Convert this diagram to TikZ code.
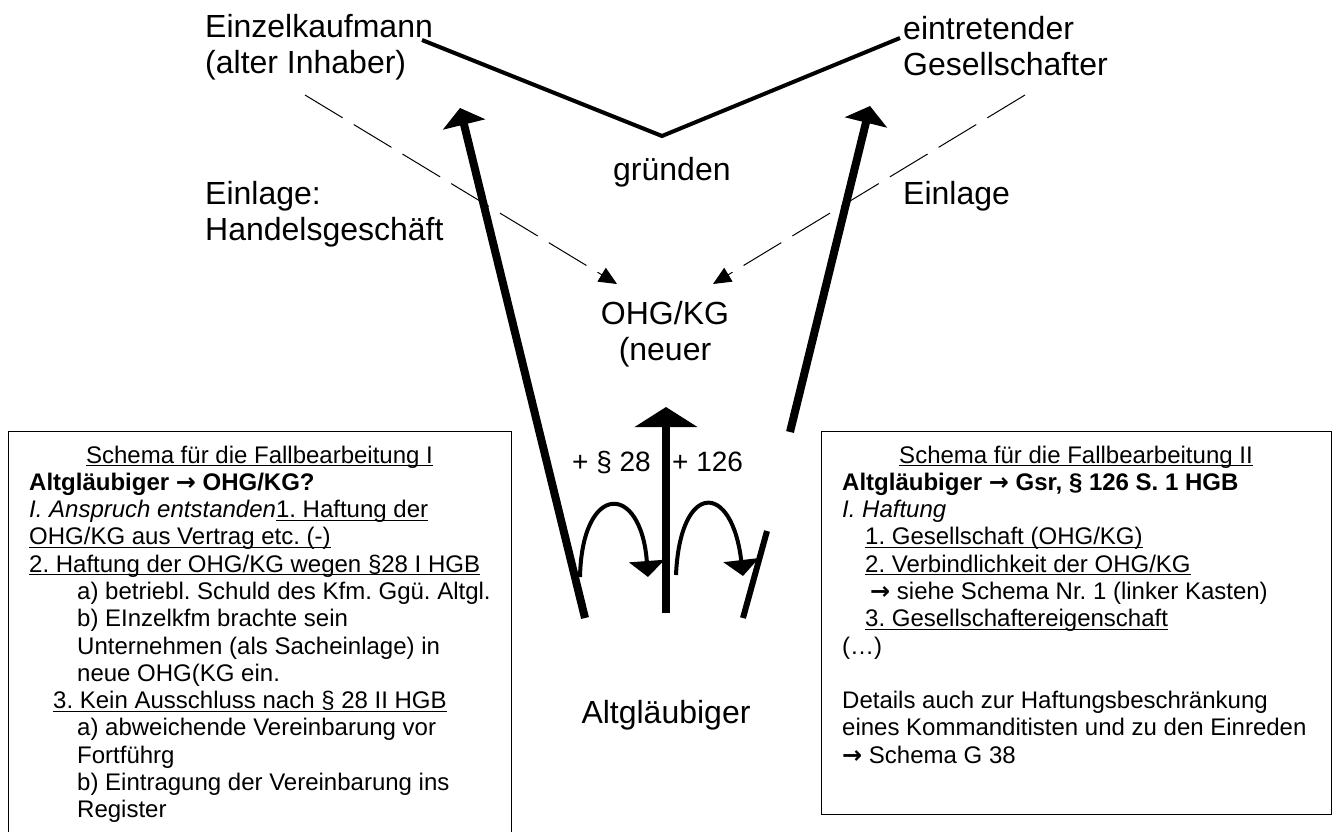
\documentclass[tikz,border=0pt]{standalone}
\usepackage{fontspec}
\setmainfont{Liberation Sans}
\newfontfamily\arrowfont{DejaVu Sans}
\usetikzlibrary{arrows.meta}
\frenchspacing
\newsavebox{\ulbox}
\newcommand{\ulin}[1]{\sbox{\ulbox}{#1}\rlap{\rule[-3.2pt]{\wd\ulbox}{1.2pt}}\usebox{\ulbox}}
\newcommand{\toarr}{{\arrowfont\bfseries →}}

\begin{document}
\begin{tikzpicture}[
    x=1pt, y=-1pt,
    lbl/.style={inner sep=0pt, align=left, font=\fontsize{32}{36}\selectfont},
    lawlbl/.style={inner sep=0pt, font=\fontsize{28}{32}\selectfont},
    txt/.style={inner sep=0pt, align=left, font=\fontsize{24}{27.3}\selectfont},
    box/.style={draw, line width=1pt, anchor=north west, inner sep=0pt},
    contrib/.style={-{Triangle[width=16pt, length=18pt]}, line width=1pt,
        dash pattern=on 44pt off 13pt},
    claim/.style={-{Triangle[width=43pt, length=17pt]}, line width=8pt},
    hop/.style={-{Triangle[width=35pt, length=16pt]}, line width=4pt},
]
\useasboundingbox (0,0) rectangle (1336,831);
\fill[white] (0,0) rectangle (1336,831);

% Top: founders and the new company
\node[lbl, anchor=north west] (kfm) at (205,11.8) {\strut Einzelkaufmann\\(alter Inhaber)};
\node[lbl, anchor=north west] (eintr) at (903,13.8) {\strut eintretender\\Gesellschafter};
\node[lbl, anchor=base west] (gruenden) at (613,180) {gründen};
\node[lbl, anchor=north west] (einlhg) at (205,178.8) {\strut Einlage:\\Handelsgeschäft};
\node[lbl, anchor=base west] (einl) at (903,204) {Einlage};
\node[lbl, anchor=north, align=center] (ohg) at (665,298.8) {\strut OHG/KG\\(neuer};
\node[lbl, anchor=base] (altgl) at (666,723) {Altgläubiger};

% Paragraph labels
\node[lawlbl, anchor=base west] (p28) at (572,471) {+ § 28};
\node[lawlbl, anchor=base west] (p126) at (672,471) {+ 126};

% Connector end points
\coordinate (vl) at (422,40);
\coordinate (vm) at (662,136);
\coordinate (vr) at (900,38);
\coordinate (kfmout) at (305,95);
\coordinate (ohgleft) at (617,284);
\coordinate (eintrout) at (1025,95);
\coordinate (ohgright) at (713,284);
\coordinate (leftfoot) at (585,618);
\coordinate (lefttip) at (460,108);
\coordinate (rightfoot) at (790,432);
\coordinate (righttip) at (870,106);
\coordinate (midfoot) at (666,613);
\coordinate (midtip) at (666,407);

% gründen
\draw[line width=4pt, line join=miter] (vl) -- (vm) -- (vr);

% Einlagen into the company
\draw[contrib] (kfmout) -- (ohgleft);
\draw[contrib] (eintrout) -- (ohgright);

% Claims of the Altgläubiger
\draw[claim] (leftfoot) -- (lefttip);
\draw[claim] (rightfoot) -- (righttip);
\draw[-{Triangle[width=62pt, length=20pt]}, line width=8pt] (midfoot) -- (midtip);
\draw[hop] (580,577) .. controls (582,482) and (641,482) .. (648,577);
\draw[hop] (676,575) .. controls (680,481) and (732,481) .. (743,576);
\draw[line width=6pt] (767,531) -- (743,618);

% Left box
\node[box, minimum width=503pt, minimum height=430pt] (leftbox) at (8,431) {};
\node[txt, anchor=base] (lhead) at (259.5,463) {\ulin{Schema für die Fallbearbeitung I}};
\node[txt, anchor=north west] (lbody) at (29,470.9) {\strut\textbf{Altgläubiger \toarr{} OHG/KG?}\\
\textit{I. Anspruch entstanden}\ulin{1. Haftung der}\\
\ulin{OHG/KG aus Vertrag etc. (-)}\\
\ulin{2. Haftung der OHG/KG wegen §28 I HGB}\\
\hspace*{48pt}a) betriebl. Schuld des Kfm. Ggü. Altgl.\\
\hspace*{48pt}b) EInzelkfm brachte sein\\
\hspace*{48pt}Unternehmen (als Sacheinlage) in\\
\hspace*{48pt}neue OHG(KG ein.\\
\hspace*{24pt}\ulin{3. Kein Ausschluss nach § 28 II HGB}\\
\hspace*{48pt}a) abweichende Vereinbarung vor\\
\hspace*{48pt}Fortführg\\
\hspace*{48pt}b) Eintragung der Vereinbarung ins\\
\hspace*{48pt}Register};

% Right box
\node[box, minimum width=510pt, minimum height=383pt] (rightbox) at (821,431) {};
\node[txt, anchor=base] (rhead) at (1076,463) {\ulin{Schema für die Fallbearbeitung II}};
\node[txt, anchor=north west] (rbody) at (842,470.9) {\strut\textbf{Altgläubiger \toarr{} Gsr, § 126 S. 1 HGB}\\
\textit{I. Haftung}\\
\hspace*{23pt}\ulin{1. Gesellschaft (OHG/KG)}\\
\hspace*{23pt}\ulin{2. Verbindlichkeit der OHG/KG}\\
\hspace*{28pt}\toarr{} siehe Schema Nr. 1 (linker Kasten)\\
\hspace*{23pt}\ulin{3. Gesellschaftereigenschaft}\\
(…)\\[27.3pt]
Details auch zur Haftungsbeschränkung\\
eines Kommanditisten und zu den Einreden\\
\toarr{} Schema G 38};

\end{tikzpicture}
\end{document}
